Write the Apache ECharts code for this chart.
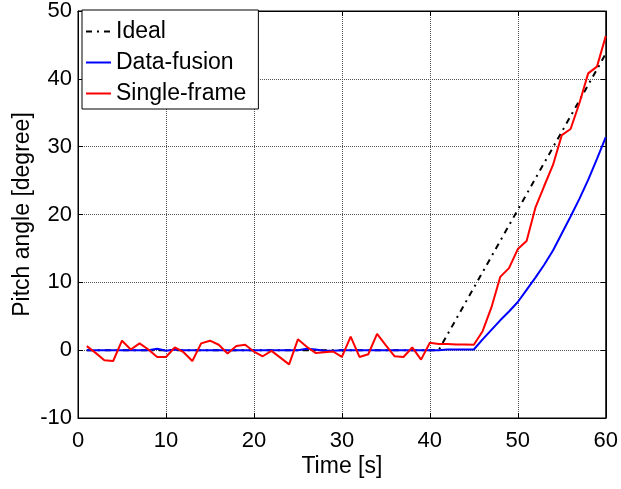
<!DOCTYPE html>
<html>
<head>
<meta charset="utf-8">
<script src="https://cdn.jsdelivr.net/npm/echarts@6/dist/echarts.min.js"></script>
<style>html,body{margin:0;padding:0;background:#fff;}#c{width:621px;height:489px;}</style>
</head>
<body>
<div id="c"></div>
<script>
const time = [1,2,3,4,5,6,7,8,9,10,11,12,13,14,15,16,17,18,19,20,21,22,23,24,25,26,27,28,29,30,31,32,33,34,35,36,37,38,39,40,41,42,43,44,45,46,47,48,49,50,51,52,53,54,55,56,57,58,59,60];
const singleFrame = [0.6,-0.4,-1.5,-1.6,1.4,0.1,1.0,0.1,-1.0,-1.0,0.4,-0.3,-1.6,1.0,1.4,0.8,-0.5,0.6,0.8,-0.2,-0.9,-0.1,-1.1,-2.1,1.6,0.5,-0.4,-0.3,-0.2,-1.0,2.0,-1.0,-0.6,2.4,0.7,-0.9,-1.0,0.4,-1.4,1.1,0.9,0.9,0.85,0.85,0.8,2.8,6.3,10.8,12.1,14.9,16.1,21.0,24.2,27.3,31.7,32.6,36.4,40.8,41.8,46.3];
const dataFusion = [0,0,0,0,0,0,0,0,0.2,-0.1,0.1,0,0,0,0,0,0,0,0,0,0,0,0,0,0,0.2,0.1,-0.1,-0.1,0,0,0,0,0,0,0,0,0,0,0,0,0.1,0.1,0.1,0.1,1.6,3.0,4.4,5.7,7.1,8.9,10.7,12.6,14.7,17.2,19.7,22.3,25.1,28.2,31.4];
const idealTime = [1,41,60];
const idealValue = [0,0,43.7];
const xTicks = {min:0,max:60,interval:10};
const yTicks = {min:-10,max:50,interval:10};

const FONT = 'Liberation Sans, Arial, Helvetica, sans-serif';
const pair = (xs, ys) => xs.map((x,i)=>[x, ys[i]]);
const chart = echarts.init(document.getElementById('c'), null, {renderer:'canvas'});
const gridLine = {show:true, lineStyle:{type:'dotted', color:'#555', width:1}};
chart.setOption({
  animation:false,
  backgroundColor:'#fff',
  grid:{left:78, right:14, top:8, bottom:71, show:true, borderColor:'#000', borderWidth:1, backgroundColor:'#fff', containLabel:false},
  legend:{
    left:82, top:10, orient:'vertical', itemWidth:25, itemHeight:14, itemGap:8,
    padding:[10,12,4,3], backgroundColor:'#fff', borderColor:'#000', borderWidth:1,
    itemStyle:{opacity:0},
    textStyle:{fontFamily:FONT, fontSize:23, color:'#000'},
    data:['Ideal','Data-fusion','Single-frame']
  },
  xAxis:[{
    type:'value', min:xTicks.min, max:xTicks.max, interval:xTicks.interval,
    name:'Time [s]', nameLocation:'middle', nameGap:37, nameMoveOverlap:false,
    nameTextStyle:{fontFamily:FONT, fontSize:23, color:'#000'},
    axisLine:{show:true, onZero:false, lineStyle:{color:'#000'}},
    axisTick:{show:true, inside:true, length:5, lineStyle:{color:'#000'}},
    axisLabel:{fontFamily:FONT, fontSize:22, color:'#000', margin:12},
    splitLine:gridLine
  },{
    type:'value', position:'top', min:xTicks.min, max:xTicks.max, interval:xTicks.interval,
    axisLine:{show:true, onZero:false, lineStyle:{color:'#000'}},
    axisTick:{show:true, inside:true, length:5, lineStyle:{color:'#000'}},
    axisLabel:{show:false}, splitLine:{show:false}
  }],
  yAxis:[{
    type:'value', min:yTicks.min, max:yTicks.max, interval:yTicks.interval,
    name:'Pitch angle [degree]', nameLocation:'middle', nameGap:44, nameMoveOverlap:false,
    nameTextStyle:{fontFamily:FONT, fontSize:23, color:'#000'},
    axisLine:{show:true, onZero:false, lineStyle:{color:'#000'}},
    axisTick:{show:true, inside:true, length:5, lineStyle:{color:'#000'}},
    axisLabel:{fontFamily:FONT, fontSize:22, color:'#000', margin:6, padding:[10,0,0,0]},
    splitLine:gridLine
  },{
    type:'value', position:'right', min:yTicks.min, max:yTicks.max, interval:yTicks.interval,
    axisLine:{show:true, onZero:false, lineStyle:{color:'#000'}},
    axisTick:{show:true, inside:true, length:5, lineStyle:{color:'#000'}},
    axisLabel:{show:false}, splitLine:{show:false}
  }],
  series:[
    {name:'Ideal', type:'line', symbol:'none', data:pair(idealTime, idealValue),
     lineStyle:{color:'#000', width:2, type:[6,5,2,5]}, itemStyle:{color:'#000'}, z:3},
    {name:'Data-fusion', type:'line', symbol:'none', data:pair(time, dataFusion),
     lineStyle:{color:'#0000ff', width:2}, itemStyle:{color:'#0000ff'}, z:4},
    {name:'Single-frame', type:'line', symbol:'none', data:pair(time, singleFrame),
     lineStyle:{color:'#ff0000', width:2}, itemStyle:{color:'#ff0000'}, z:5}
  ]
});
</script>
</body>
</html>
